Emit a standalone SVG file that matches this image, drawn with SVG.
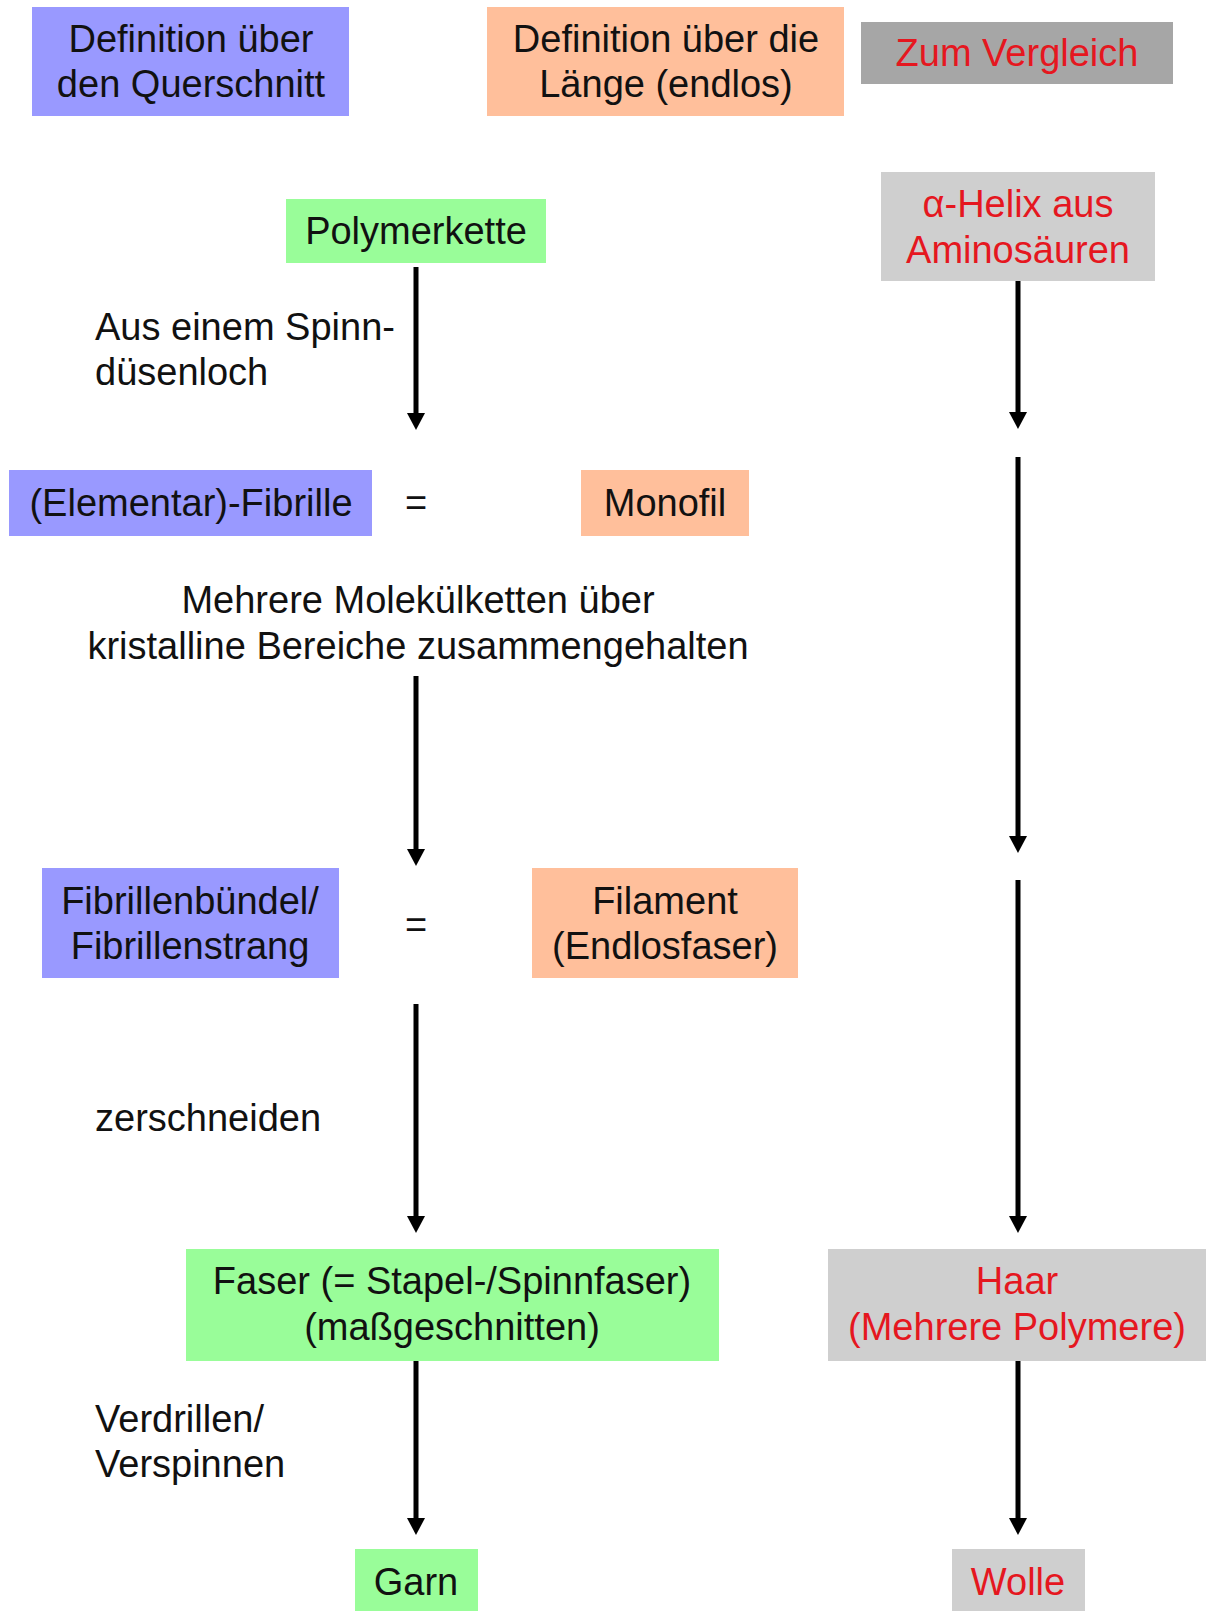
<svg xmlns="http://www.w3.org/2000/svg" width="1206" height="1611" viewBox="0 0 1206 1611">
<style>
text{font-family:"Liberation Sans",Arial,sans-serif;font-size:38px;fill:#111}
.c{text-anchor:middle}
.r{fill:#e5171f}
.blue{fill:#9999ff}
.orange{fill:#ffbf9b}
.green{fill:#99fd99}
.dgray{fill:#a6a6a6}
.lgray{fill:#cfcfcf}
.arr{stroke:#000;stroke-width:5;fill:none;marker-end:url(#ah)}
</style>
<defs>
<marker id="ah" markerUnits="userSpaceOnUse" markerWidth="17" markerHeight="18" viewBox="0 0 17 18" refX="7" refY="9" orient="auto">
<path d="M0,0 L17,9 L0,18 z" fill="#000"/>
</marker>
</defs>
<rect width="1206" height="1611" fill="#fff"/>
<g id="connectors">
<line class="arr" x1="416" y1="267" x2="416" y2="420"/>
<line class="arr" x1="416" y1="676" x2="416" y2="856"/>
<line class="arr" x1="416" y1="1004" x2="416" y2="1223"/>
<line class="arr" x1="416" y1="1361" x2="416" y2="1525"/>
<line class="arr" x1="1018" y1="281" x2="1018" y2="419"/>
<line class="arr" x1="1018" y1="457" x2="1018" y2="843"/>
<line class="arr" x1="1018" y1="880" x2="1018" y2="1223"/>
<line class="arr" x1="1018" y1="1361" x2="1018" y2="1525"/>
</g>
<g id="hdr-querschnitt"><rect class="blue" x="32" y="7" width="317" height="109"/>
<text class="c" x="191" y="52">Definition über</text><text class="c" x="191" y="97">den Querschnitt</text></g>
<g id="hdr-laenge"><rect class="orange" x="487" y="7" width="357" height="109"/>
<text class="c" x="666" y="52">Definition über die</text><text class="c" x="666" y="97">Länge (endlos)</text></g>
<g id="hdr-vergleich"><rect class="dgray" x="861" y="22" width="312" height="62"/>
<text class="c r" x="1017" y="66">Zum Vergleich</text></g>
<g id="polymerkette"><rect class="green" x="286" y="199" width="260" height="64"/>
<text class="c" x="416" y="244">Polymerkette</text></g>
<g id="helix"><rect class="lgray" x="881" y="172" width="274" height="109"/>
<text class="c r" x="1018" y="217">α-Helix aus</text><text class="c r" x="1018" y="263">Aminosäuren</text></g>
<g id="label-spinn"><text x="95" y="340">Aus einem Spinn-</text><text x="95" y="385">düsenloch</text></g>
<g id="fibrille"><rect class="blue" x="9" y="470" width="363" height="66"/>
<text class="c" x="191" y="516">(Elementar)-Fibrille</text></g>
<g id="eq1"><text class="c" x="416" y="516">=</text></g>
<g id="monofil"><rect class="orange" x="581" y="470" width="168" height="66"/>
<text class="c" x="665" y="516">Monofil</text></g>
<g id="label-mehrere"><text class="c" x="418" y="613">Mehrere Molekülketten über</text><text class="c" x="418" y="659">kristalline Bereiche zusammengehalten</text></g>
<g id="buendel"><rect class="blue" x="42" y="868" width="297" height="110"/>
<text class="c" x="190" y="914">Fibrillenbündel/</text><text class="c" x="190" y="959">Fibrillenstrang</text></g>
<g id="eq2"><text class="c" x="416" y="938">=</text></g>
<g id="filament"><rect class="orange" x="532" y="868" width="266" height="110"/>
<text class="c" x="665" y="914">Filament</text><text class="c" x="665" y="959">(Endlosfaser)</text></g>
<g id="label-zerschneiden"><text x="95" y="1131">zerschneiden</text></g>
<g id="faser"><rect class="green" x="186" y="1249" width="533" height="112"/>
<text class="c" x="452" y="1294">Faser (= Stapel-/Spinnfaser)</text><text class="c" x="452" y="1340">(maßgeschnitten)</text></g>
<g id="haar"><rect class="lgray" x="828" y="1249" width="378" height="112"/>
<text class="c r" x="1017" y="1294">Haar</text><text class="c r" x="1017" y="1340">(Mehrere Polymere)</text></g>
<g id="label-verdrillen"><text x="95" y="1432">Verdrillen/</text><text x="95" y="1477">Verspinnen</text></g>
<g id="garn"><rect class="green" x="355" y="1549" width="123" height="62"/>
<text class="c" x="416" y="1595">Garn</text></g>
<g id="wolle"><rect class="lgray" x="952" y="1549" width="133" height="62"/>
<text class="c r" x="1018" y="1595">Wolle</text></g>
</svg>
